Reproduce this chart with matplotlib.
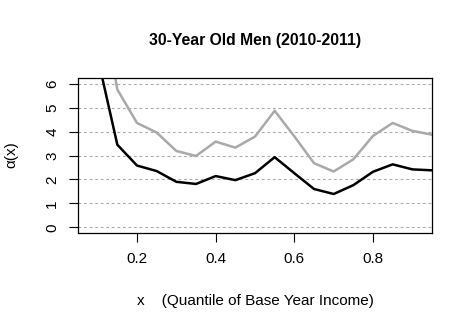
import numpy as np
import matplotlib
matplotlib.use("Agg")
import matplotlib.pyplot as plt

# quantile of base year income
x = [0.05, 0.10, 0.15, 0.20, 0.25, 0.30, 0.35, 0.40, 0.45, 0.50,
     0.55, 0.60, 0.65, 0.70, 0.75, 0.80, 0.85, 0.90, 0.95]
# alpha(x), black and gray curves
alpha_black = [9.5, 7.1, 3.45, 2.58, 2.35, 1.90, 1.81, 2.14, 1.97, 2.26,
               2.93, 2.26, 1.60, 1.39, 1.76, 2.32, 2.63, 2.42, 2.38]
alpha_gray = [14.0, 10.5, 5.76, 4.36, 3.96, 3.19, 2.98, 3.58, 3.33, 3.79,
              4.87, 3.80, 2.68, 2.33, 2.84, 3.82, 4.36, 4.03, 3.87]
xticks = [0.2, 0.4, 0.6, 0.8]
yticks = [0, 1, 2, 3, 4, 5, 6]

plt.rcParams['font.family'] = ['Liberation Sans', 'DejaVu Sans']

fig = plt.figure(figsize=(4.72, 3.31), dpi=100)
ax = fig.add_axes([78 / 472, 1 - 233 / 331, 354 / 472, 155 / 331])

for yv in yticks:
    ax.axhline(yv, color='#aaaaaa', linestyle=(0, (2.5, 2.5)), linewidth=0.8, zorder=1)

ax.plot(x, alpha_gray, color='#a9a9a9', linewidth=1.8, zorder=2)
ax.plot(x, alpha_black, color='black', linewidth=1.8, zorder=3)

ax.set_xlim(0.05, 0.95)
ax.set_ylim(-0.24, 6.24)
ax.set_xticks(xticks)
ax.set_xticklabels([f'{v:.1f}' for v in xticks])
ax.set_yticks(yticks)
ax.set_yticklabels([str(v) for v in yticks], rotation=90, va='center')
ax.tick_params(axis='both', direction='out', length=6.5, width=0.8,
               labelsize=11, pad=7)
for s in ax.spines.values():
    s.set_linewidth(0.9)

fig.text(255 / 472, 1 - 41 / 331, '30-Year Old Men (2010-2011)', ha='center',
         va='center', fontsize=11.3, fontweight='bold')
fig.text(255 / 472, 1 - 301 / 331, 'x    (Quantile of Base Year Income)',
         ha='center', va='center', fontsize=11)
fig.text(11 / 472, 1 - 155 / 331, 'α(x)', ha='center', va='center',
         fontsize=11, rotation=90)

fig.savefig('out.png', dpi=100)
